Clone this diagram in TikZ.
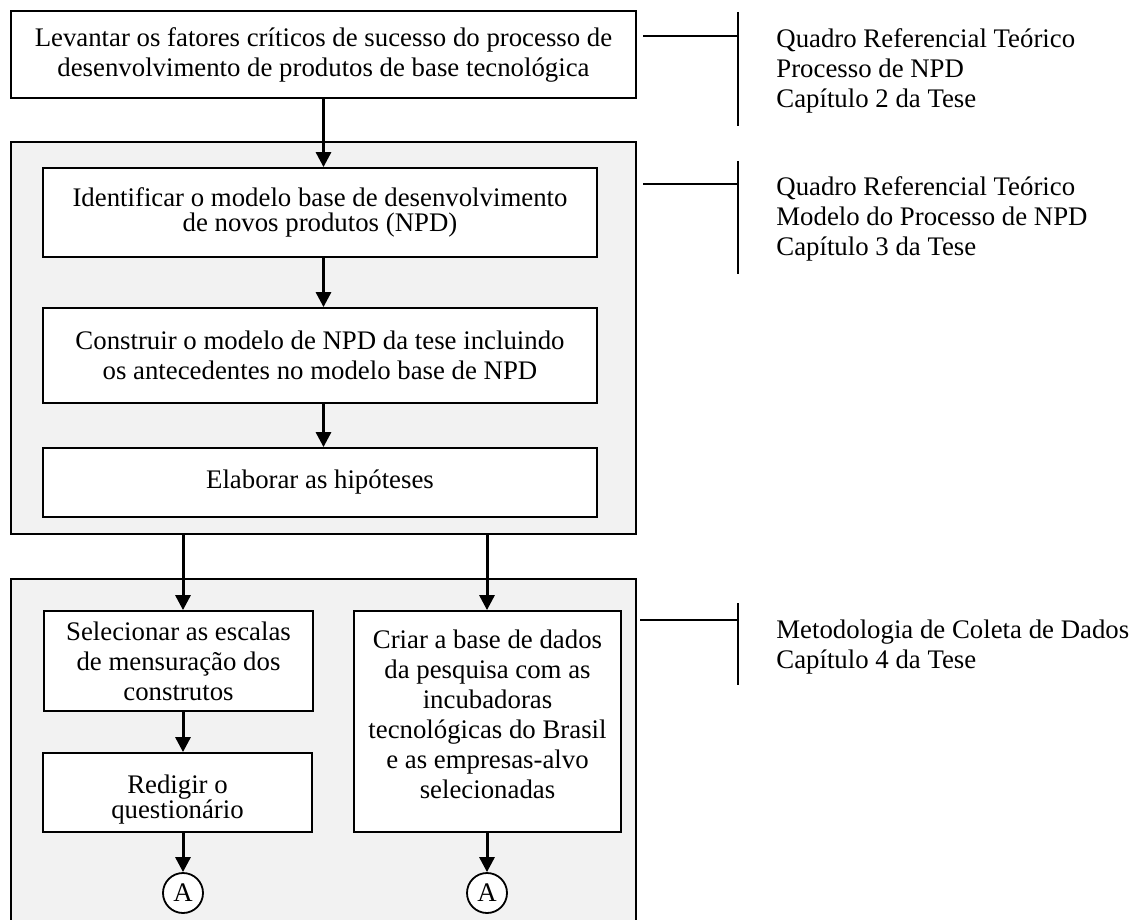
\documentclass[tikz,border=0pt]{standalone}
\usepackage{fontspec}
\setmainfont{Liberation Serif}
\usetikzlibrary{arrows.meta}
\definecolor{panelgray}{RGB}{242,242,242}
\begin{document}
\begin{tikzpicture}[x=0.5pt,y=-0.5pt,
  txt/.style={font=\fontsize{13.4}{15}\selectfont},
  tight/.style={font=\fontsize{13.4}{12.5}\selectfont},
  stepbox/.style={txt,draw,line width=0.9pt,fill=white,align=center,inner sep=0pt},
  panel/.style={draw,line width=0.9pt,fill=panelgray,inner sep=0pt},
  arr/.style={line width=1.5pt,-{Triangle[width=7.5pt,length=7.5pt]}},
  tick/.style={line width=0.9pt},
  note/.style={txt,anchor=north west,align=left,inner sep=0pt},
  conn/.style={txt,draw,circle,line width=0.9pt,fill=white,minimum size=20pt,inner sep=0pt}]
\useasboundingbox (0,0) rectangle (1136,920);
\clip (0,0) rectangle (1136,920);
\fill[white] (0,0) rectangle (1136,920);

% shaded groups
\node[panel,minimum width=312.5pt,minimum height=196pt] (g1) at (323.5,338) {};
\node[panel,minimum width=312.5pt,minimum height=175.5pt] (g2) at (323.5,754.5) {};

% process steps
\node[stepbox,minimum width=312.5pt,minimum height=43.5pt] (top) at (323.5,54.5)
  {Levantar os fatores críticos de sucesso do processo de\\desenvolvimento de produtos de base tecnológica};
\node[stepbox,tight,minimum width=277pt,minimum height=44.5pt] (id) at (320,212.5)
  {Identificar o modelo base de desenvolvimento\\de novos produtos (NPD)};
\node[stepbox,minimum width=277pt,minimum height=47.5pt] (build) at (320,355.5)
  {Construir o modelo de NPD da tese incluindo\\os antecedentes no modelo base de NPD};
\node[stepbox,minimum width=277pt,minimum height=34.5pt] (hyp) at (320,482.5)
  {Elaborar as hipóteses};
\node[stepbox,minimum width=134.5pt,minimum height=50pt] (sel) at (178.5,661)
  {Selecionar as escalas\\de mensuração dos\\construtos};
\node[stepbox,tight,minimum width=134.5pt,minimum height=39.5pt] (red) at (177.5,792.5)
  {\rule{0pt}{16.5pt}Redigir o\\questionário};
\node[stepbox,minimum width=133.5pt,minimum height=110.5pt] (cri) at (487.5,721.5)
  {Criar a base de dados\\da pesquisa com as\\incubadoras\\tecnológicas do Brasil\\e as empresas-alvo\\selecionadas\rule[-7pt]{0pt}{7pt}};
\node[conn] (c1) at (183,893) {A};
\node[conn] (c2) at (487,893) {A};

% flow arrows
\draw[arr] (top.south) -- (top.south |- id.north);
\draw[arr] (id.south -| top.south) -- (top.south |- build.north);
\draw[arr] (build.south -| top.south) -- (top.south |- hyp.north);
\draw[arr] (g1.south -| c1) -- (c1 |- sel.north);
\draw[arr] (sel.south -| c1) -- (c1 |- red.north);
\draw[arr] (red.south -| c1) -- (c1.north);
\draw[arr] (g1.south -| c2) -- (c2 |- cri.north);
\draw[arr] (cri.south -| c2) -- (c2.north);

% side references
\coordinate (h1s) at (643,36);  \coordinate (h1e) at (738,36);
\coordinate (v1t) at (738,12);  \coordinate (v1b) at (738,126);
\coordinate (h2s) at (643,184); \coordinate (h2e) at (738,184);
\coordinate (v2t) at (738,161); \coordinate (v2b) at (738,274);
\coordinate (h3s) at (640,620); \coordinate (h3e) at (738,620);
\coordinate (v3t) at (738,603); \coordinate (v3b) at (738,685);
\draw[tick] (h1s) -- (h1e);
\draw[tick] (v1t) -- (v1b);
\draw[tick] (h2s) -- (h2e);
\draw[tick] (v2t) -- (v2b);
\draw[tick] (h3s) -- (h3e);
\draw[tick] (v3t) -- (v3b);

\node[note] (n1) at (776,26) {\strut Quadro Referencial Teórico\\Processo de NPD\\Capítulo 2 da Tese};
\node[note] (n2) at (776,174) {\strut Quadro Referencial Teórico\\Modelo do Processo de NPD\\Capítulo 3 da Tese};
\node[note] (n3) at (776,617) {\strut Metodologia de Coleta de Dados\\Capítulo 4 da Tese};
\end{tikzpicture}
\end{document}
